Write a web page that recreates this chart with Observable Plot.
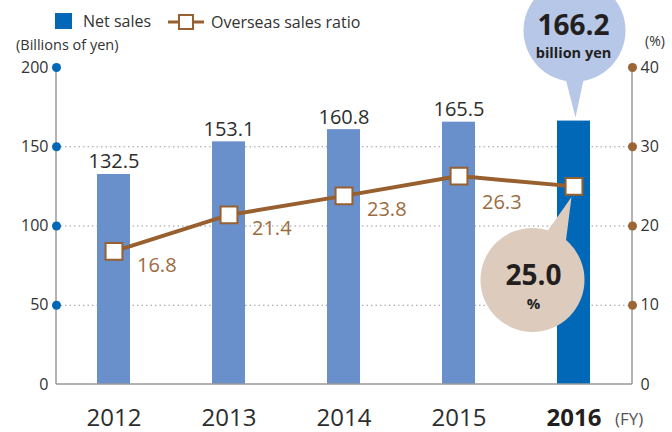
<!DOCTYPE html>
<html><head><meta charset="utf-8">
<script src="https://cdn.jsdelivr.net/npm/d3@7"></script>
<script src="https://cdn.jsdelivr.net/npm/@observablehq/plot@0.6"></script>
<style>
body{margin:0;background:#fff;font-family:"Open Sans",sans-serif;}
#wrap{position:relative;width:672px;height:432px;overflow:hidden;}
.abs{position:absolute;color:#333;white-space:nowrap;line-height:1;}
</style></head><body><div id="wrap"></div>
<script>
const years = ["2012","2013","2014","2015","2016"];
const netSales = [132.5, 153.1, 160.8, 165.5, 166.2];
const overseasRatio = [16.8, 21.4, 23.8, 26.3, 25.0];
const leftTicks = [0, 50, 100, 150, 200];
const rightTicks = [0, 10, 20, 30, 40];
const highlightYear = "2016";

const RATIO_FACTOR = 200 / 40;
const data = years.map((year, i) => ({year, sales: netSales[i], ratio: overseasRatio[i]}));
const BLUE = "#6a90cc", DARKBLUE = "#0068b7", BROWN = "#98602f", BROWN_TXT = "#9c6b40";

function axisLines(index, scales, values, dims) {
  const g = d3.create("svg:g").attr("stroke", "#9a9a9a").attr("stroke-width", 1.5);
  const y = scales.y;
  const l = dims.marginLeft, r = dims.width - dims.marginRight;
  g.append("line").attr("x1", l).attr("x2", l).attr("y1", y(200)).attr("y2", y(0));
  g.append("line").attr("x1", r).attr("x2", r).attr("y1", y(40 * RATIO_FACTOR)).attr("y2", y(0));
  g.append("line").attr("x1", l).attr("x2", r).attr("y1", y(0)).attr("y2", y(0));
  return g.node();
}

function bubbles(index, scales, values, dims) {
  const x = scales.x, y = scales.y;
  const bw = typeof x.bandwidth === "function" ? x.bandwidth() : 33;
  const i = years.indexOf(highlightYear);
  const cx = x(highlightYear) + bw / 2;
  const ys = y(netSales[i]);
  const yr = y(overseasRatio[i] * RATIO_FACTOR);
  const g = d3.create("svg:g");
  // sales bubble
  const b1 = g.append("g");
  b1.append("circle").attr("cx", cx + 1).attr("cy", ys - 90).attr("r", 51).attr("fill", "#b7c7e7");
  b1.append("path").attr("d", `M${cx - 10},${ys - 50}L${cx + 12},${ys - 50}L${cx + 2},${ys - 3}Z`).attr("fill", "#b7c7e7");
  b1.append("text").attr("x", cx).attr("y", ys - 86).attr("text-anchor", "middle")
    .attr("font-size", 28).attr("font-weight", "bold").attr("fill", "#231f20").text(netSales[i].toFixed(1));
  b1.append("text").attr("x", cx).attr("y", ys - 63).attr("text-anchor", "middle")
    .attr("font-size", 14.5).attr("font-weight", "bold").attr("fill", "#231f20").text("billion yen");
  // ratio bubble
  const b2 = g.append("g");
  b2.append("circle").attr("cx", cx - 41).attr("cy", yr + 94).attr("r", 52).attr("fill", "#ddccbe");
  b2.append("path").attr("d", `M${cx - 28},${yr + 48}L${cx - 8},${yr + 58}L${cx - 2},${yr + 11}Z`).attr("fill", "#ddccbe");
  b2.append("text").attr("x", cx - 40).attr("y", yr + 99).attr("text-anchor", "middle")
    .attr("font-size", 28).attr("font-weight", "bold").attr("fill", "#231f20").text(overseasRatio[i].toFixed(1));
  b2.append("text").attr("x", cx - 40).attr("y", yr + 123).attr("text-anchor", "middle")
    .attr("font-size", 15).attr("font-weight", "bold").attr("fill", "#231f20").text("%");
  return g.node();
}

const plot = Plot.plot({
  width: 672,
  height: 432,
  marginLeft: 56,
  marginRight: 40,
  marginTop: 67,
  marginBottom: 48,
  style: {fontFamily: "'Open Sans', sans-serif", fontSize: "16px", color: "#333", background: "white", overflow: "visible"},
  x: {domain: years, paddingInner: 0.71, paddingOuter: 0.355, axis: null},
  y: {domain: [0, 200], axis: null},
  color: {type: "identity"},
  marks: [
    Plot.ruleY([50, 100, 150], {stroke: "#999", strokeWidth: 1, strokeDasharray: "1.5,3"}),
    Plot.barY(data, {x: "year", y: "sales", fill: d => d.year === highlightYear ? DARKBLUE : BLUE}),
    Plot.text(data.filter(d => d.year !== highlightYear), {x: "year", y: "sales", text: d => d.sales.toFixed(1), lineAnchor: "bottom", dy: -6, fontSize: 20, fill: "#2d2d2d"}),
    axisLines,
    Plot.axisY({anchor: "left", label: null, ticks: leftTicks, tickSize: 0, tickPadding: 8, fontSize: 16, fill: "#333"}),
    Plot.axisY({anchor: "right", label: null, ticks: rightTicks.map(d => d * RATIO_FACTOR), tickFormat: d => d / RATIO_FACTOR, tickSize: 0, tickPadding: 8, fontSize: 16, fill: "#333"}),
    Plot.dot(leftTicks.filter(d => d > 0), {y: d => d, frameAnchor: "left", r: 4.5, fill: DARKBLUE}),
    Plot.dot(rightTicks.filter(d => d > 0), {y: d => d * RATIO_FACTOR, frameAnchor: "right", r: 4.5, fill: "#9b6535"}),
    Plot.line(data, {x: "year", y: d => d.ratio * RATIO_FACTOR, stroke: BROWN, strokeWidth: 4}),
    Plot.dot(data, {x: "year", y: d => d.ratio * RATIO_FACTOR, symbol: "square", r: 9.5, fill: "white", stroke: BROWN, strokeWidth: 2}),
    Plot.text(data.filter(d => ["2012","2013","2014"].includes(d.year)), {x: "year", y: d => d.ratio * RATIO_FACTOR, text: d => d.ratio.toFixed(1), textAnchor: "start", lineAnchor: "middle", dx: 23, dy: 14, fontSize: 20, fill: BROWN_TXT}),
    Plot.text(data.filter(d => d.year === "2015"), {x: "year", y: d => d.ratio * RATIO_FACTOR, text: d => d.ratio.toFixed(1), textAnchor: "start", lineAnchor: "middle", dx: 23, dy: 27, fontSize: 20, fill: BROWN_TXT}),
    bubbles,
    Plot.text(years.filter(d => d !== highlightYear), {x: d => d, frameAnchor: "bottom", lineAnchor: "middle", dy: 34, fontSize: 24, fill: "#2d2d2d"}),
    Plot.text([highlightYear], {x: d => d, frameAnchor: "bottom", lineAnchor: "middle", dy: 34, fontSize: 24, fontWeight: "bold", fill: "#231f20"})
  ]
});

const wrap = document.getElementById("wrap");
wrap.appendChild(plot);
function addText(html, css) {
  const d = document.createElement("div");
  d.className = "abs";
  d.innerHTML = html;
  Object.assign(d.style, css);
  wrap.appendChild(d);
}
// legend
addText(`<span style="display:inline-block;width:17px;height:16px;background:${DARKBLUE};vertical-align:-2px;margin-right:11px"></span>Net sales`, {left: "55px", top: "13px", fontSize: "16px"});
addText(`<svg width="36" height="18" style="vertical-align:-3px;margin-right:7px"><line x1="0" x2="36" y1="9" y2="9" stroke="${BROWN}" stroke-width="3"/><rect x="11" y="2" width="14" height="14" fill="white" stroke="${BROWN}" stroke-width="2"/></svg>Overseas sales ratio`, {left: "168px", top: "13px", fontSize: "16px"});
addText("(Billions of yen)", {left: "16px", top: "38px", fontSize: "14.5px"});
addText("(%)", {left: "645px", top: "34px", fontSize: "14px"});
addText("(FY)", {left: "615px", top: "410px", fontSize: "17px", color: "#555"});
</script></body></html>
